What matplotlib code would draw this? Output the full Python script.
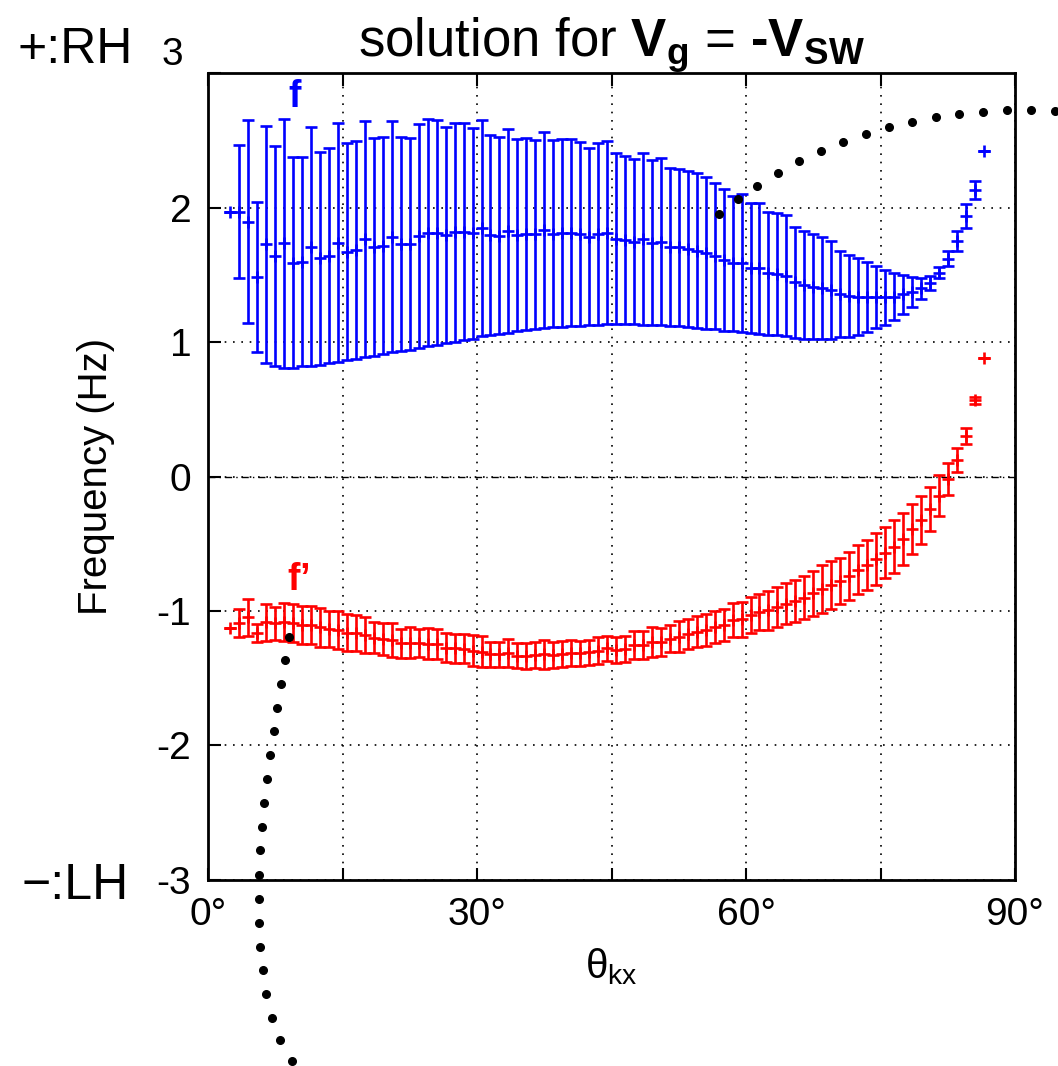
import numpy as np
import matplotlib.pyplot as plt
import matplotlib.transforms as mtransforms

plt.rcParams['font.family'] = ['Liberation Sans', 'DejaVu Sans']
plt.rcParams['mathtext.fontset'] = 'custom'
plt.rcParams['mathtext.rm'] = 'Liberation Sans'
plt.rcParams['mathtext.bf'] = 'Liberation Sans:bold'
plt.rcParams['mathtext.it'] = 'Liberation Sans:italic'
plt.rcParams['axes.unicode_minus'] = False

# angles (deg) of the solutions
theta = np.arange(2.5, 87.0, 1.0)

# f (right hand) : centre and half error
f_c = [1.970, 1.970, 1.895, 1.486, 1.727, 1.640, 1.734, 1.590, 1.598, 1.709,
       1.622, 1.642, 1.739, 1.672, 1.684, 1.766, 1.707, 1.717, 1.784, 1.729,
       1.729, 1.789, 1.813, 1.813, 1.794, 1.816, 1.821, 1.808, 1.848, 1.794,
       1.791, 1.828, 1.794, 1.801, 1.801, 1.833, 1.806, 1.811, 1.811, 1.803,
       1.784, 1.803, 1.813, 1.769, 1.759, 1.746, 1.769, 1.739, 1.746, 1.707,
       1.704, 1.692, 1.679, 1.660, 1.640, 1.610, 1.585, 1.585, 1.548, 1.548,
       1.511, 1.504, 1.494, 1.444, 1.424, 1.412, 1.399, 1.387, 1.357, 1.345,
       1.338, 1.333, 1.333, 1.333, 1.338, 1.355, 1.375, 1.399, 1.442, 1.516,
       1.618, 1.751, 1.937, 2.130, 2.420]
f_e = [0.0, 0.496, 0.756, 0.558, 0.881, 0.818, 0.927, 0.783, 0.777, 0.888,
       0.793, 0.799, 0.888, 0.809, 0.813, 0.877, 0.809, 0.805, 0.859, 0.796,
       0.787, 0.831, 0.845, 0.835, 0.802, 0.815, 0.809, 0.783, 0.803, 0.743,
       0.730, 0.758, 0.714, 0.715, 0.703, 0.730, 0.695, 0.700, 0.695, 0.682,
       0.658, 0.673, 0.682, 0.634, 0.626, 0.613, 0.639, 0.611, 0.623, 0.585,
       0.586, 0.582, 0.577, 0.564, 0.545, 0.525, 0.504, 0.513, 0.483, 0.486,
       0.457, 0.454, 0.449, 0.413, 0.405, 0.392, 0.379, 0.364, 0.323, 0.305,
       0.285, 0.260, 0.232, 0.204, 0.176, 0.144, 0.112, 0.079, 0.052, 0.042,
       0.055, 0.076, 0.086, 0.066, 0.0]

# f' (left hand)
g_c = [-1.130, -1.092, -1.047, -1.161, -1.084, -1.092, -1.079, -1.087, -1.104, -1.104,
       -1.122, -1.134, -1.141, -1.161, -1.166, -1.178, -1.198, -1.211, -1.216, -1.240,
       -1.236, -1.240, -1.243, -1.246, -1.272, -1.277, -1.279, -1.294, -1.302, -1.322,
       -1.322, -1.315, -1.334, -1.334, -1.329, -1.322, -1.327, -1.319, -1.315, -1.315,
       -1.307, -1.295, -1.277, -1.290, -1.282, -1.253, -1.253, -1.228, -1.228, -1.205,
       -1.191, -1.171, -1.153, -1.141, -1.121, -1.104, -1.067, -1.062, -1.030, -1.010,
       -0.995, -0.970, -0.945, -0.925, -0.900, -0.869, -0.836, -0.807, -0.775, -0.740,
       -0.695, -0.658, -0.613, -0.566, -0.521, -0.464, -0.393, -0.323, -0.241, -0.142,
       -0.021, 0.123, 0.301, 0.566, 0.879]
g_e = [0.0, 0.105, 0.137, 0.068, 0.136, 0.124, 0.142, 0.140, 0.139, 0.144,
       0.144, 0.136, 0.143, 0.136, 0.134, 0.131, 0.118, 0.119, 0.128, 0.109,
       0.115, 0.104, 0.115, 0.114, 0.105, 0.109, 0.111, 0.113, 0.115, 0.093,
       0.095, 0.105, 0.093, 0.094, 0.097, 0.107, 0.095, 0.099, 0.097, 0.094,
       0.093, 0.098, 0.093, 0.099, 0.095, 0.107, 0.103, 0.112, 0.103, 0.103,
       0.114, 0.115, 0.116, 0.119, 0.118, 0.116, 0.129, 0.130, 0.134, 0.134,
       0.145, 0.152, 0.152, 0.155, 0.159, 0.168, 0.176, 0.181, 0.172, 0.180,
       0.182, 0.185, 0.192, 0.192, 0.198, 0.195, 0.185, 0.181, 0.165, 0.151,
       0.120, 0.087, 0.061, 0.027, 0.0]

# dotted reference curves (run off the frame)
up_x = [57.0, 59.1, 61.2, 63.6, 65.9, 68.4, 70.8, 73.4, 75.9, 78.5, 81.2, 83.8, 86.4, 89.1, 91.8, 94.5]
up_y = [1.952, 2.063, 2.160, 2.257, 2.346, 2.420, 2.487, 2.546, 2.599, 2.636, 2.673, 2.695, 2.710, 2.725, 2.725, 2.717]
lo_x = [9.03, 8.55, 8.11, 7.69, 7.33, 6.88, 6.58, 6.28, 6.02, 5.83, 5.69, 5.65, 5.69, 5.80, 6.10, 6.50, 7.17, 8.03, 9.37]
lo_y = [-1.191, -1.367, -1.543, -1.719, -1.894, -2.071, -2.249, -2.425, -2.604, -2.779,
        -2.961, -3.139, -3.318, -3.496, -3.671, -3.850, -4.024, -4.190, -4.348]

xticks = [0, 15, 30, 45, 60, 75, 90]
xticklabels = ['0°', '', '30°', '', '60°', '', '90°']
yticks = [-3, -2, -1, 0, 1, 2, 3]
yticklabels = ['-3', '-2', '-1', '0', '1', '2', '3']

fig = plt.figure(figsize=(10.58, 10.66), dpi=100)
ax = fig.add_axes([0.1966, 0.1745, 0.7628, 0.757])

ax.errorbar(theta, f_c, yerr=f_e, fmt='+', color='#0000ff', ms=9, mew=1.9,
            elinewidth=1.9, capsize=4.5, capthick=1.9, zorder=3)
ax.errorbar(theta, g_c, yerr=g_e, fmt='+', color='#ff0000', ms=9, mew=1.9,
            elinewidth=1.9, capsize=4.5, capthick=1.9, zorder=3)
ax.plot(up_x, up_y, 'o', color='k', ms=5.5, clip_on=False, zorder=4)
ax.plot(lo_x, lo_y, 'o', color='k', ms=5.5, clip_on=False, zorder=4)

ax.set_xlim(0, 90)
ax.set_ylim(-3, 3)
ax.set_xticks(xticks)
ax.set_xticklabels(xticklabels)
ax.set_yticks(yticks)
ax.set_yticklabels(yticklabels)
ax.tick_params(direction='in', length=9, width=1.5, labelsize=28, top=True, right=False, pad=12)
ax.grid(True, color='k', linestyle=(0, (1, 4)), linewidth=1.2)
ax.axhline(0, color='k', lw=1.0, ls=(0, (5, 3, 1, 3)), zorder=1)
for s in ax.spines.values():
    s.set_linewidth(2)

# the top "3" label sits a little higher and to the left, next to "+:RH"
top_lab = ax.get_yticklabels()[-1]
shift = mtransforms.ScaledTranslation(-8 / 100, 22 / 100, fig.dpi_scale_trans)
top_lab.set_transform(top_lab.get_transform() + shift)

ax.set_ylabel('Frequency (Hz)', fontsize=29, labelpad=30)
ax.set_xlabel(r'$\mathrm{\theta_{kx}}$', fontsize=29, labelpad=10)
ax.set_title('solution for $\\mathbf{V_g}$ = $\\mathbf{\u2010V_{SW}}$', fontsize=38, pad=12)

ax.text(9.7, 2.82, 'f', color='#0000ff', fontsize=27, fontweight='bold', ha='center', va='center')
ax.text(10.2, -0.77, 'f’', color='#ff0000', fontsize=27, fontweight='bold', ha='center', va='center')
fig.text(0.071, 0.953, '+:RH', fontsize=36, ha='center', va='center')
fig.text(0.071, 0.169, '−:LH', fontsize=36, ha='center', va='center')

fig.savefig('out.png', dpi=100)
